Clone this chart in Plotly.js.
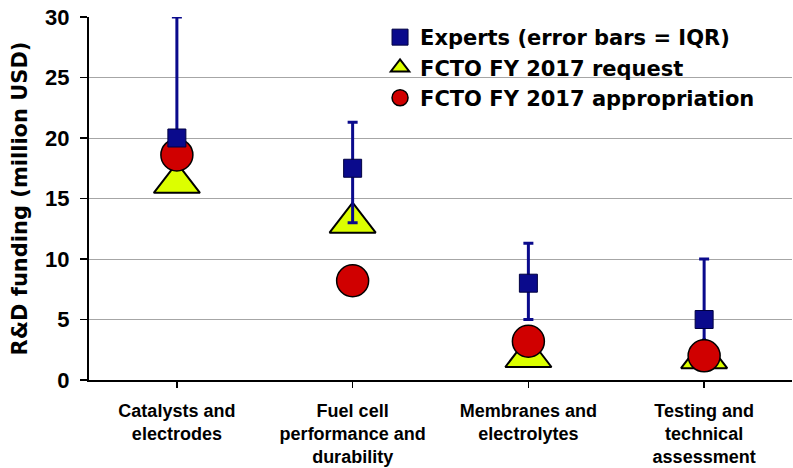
<!DOCTYPE html>
<html>
<head>
<meta charset="utf-8">
<script src="https://cdn.plot.ly/plotly-3.0.1.min.js"></script>
<style>html,body{margin:0;padding:0;background:#fff;}#chart{width:793px;height:468px;}</style>
</head>
<body>
<div id="chart"></div>
<script>
const categories = ['Catalysts and electrodes', 'Fuel cell performance and durability', 'Membranes and electrolytes', 'Testing and technical assessment'];
const tickLabels = ['Catalysts and<br>electrodes', 'Fuel cell<br>performance and<br>durability', 'Membranes and<br>electrolytes', 'Testing and<br>technical<br>assessment'];
const expertsMedian = [20, 17.5, 8, 5];
const expertsQ3 = [30, 21.3, 11.3, 10];
const expertsQ1 = [18, 13, 5, 3];
const fctoRequest = [16.3, 13.0, 1.9, 1.8];
const fctoAppropriation = [18.6, 8.2, 3.2, 2.0];
const yTicks = [0, 5, 10, 15, 20, 25, 30];

const navy = '#0a0a8c';
const errPlus = expertsQ3.map((v, i) => v - expertsMedian[i]);
const errMinus = expertsMedian.map((v, i) => v - expertsQ1[i]);

const traces = [
  {
    x: categories, y: fctoRequest, type: 'scatter', mode: 'markers',
    name: 'FCTO FY 2017 request', legendrank: 2,
    marker: {symbol: 'triangle-up', size: 40, color: '#dcff00', line: {color: '#000', width: 2}}
  },
  {
    x: categories, y: expertsMedian, type: 'scatter', mode: 'markers',
    showlegend: false, hoverinfo: 'skip',
    marker: {size: 1, color: 'rgba(0,0,0,0)'},
    error_y: {type: 'data', symmetric: false, array: errPlus, arrayminus: errMinus,
              color: navy, thickness: 3, width: 5}
  },
  {
    x: categories, y: fctoAppropriation, type: 'scatter', mode: 'markers',
    name: 'FCTO FY 2017 appropriation', legendrank: 3,
    marker: {symbol: 'circle', size: 32, color: '#d00000', line: {color: '#000', width: 1.5}}
  },
  {
    x: categories, y: expertsMedian, type: 'scatter', mode: 'markers',
    name: 'Experts (error bars = IQR)', legendrank: 1,
    marker: {symbol: 'square', size: 18, color: navy, line: {color: '#000040', width: 1}}
  }
];

const layout = {
  width: 793, height: 468,
  margin: {l: 89, r: 1, t: 17, b: 88},
  paper_bgcolor: '#fff', plot_bgcolor: '#fff',
  showlegend: true,
  legend: {
    x: 0.414, y: 1.0, xanchor: 'left', yanchor: 'top',
    bgcolor: 'rgba(0,0,0,0)', borderwidth: 0,
    font: {family: 'DejaVu Sans', size: 21, color: '#000', weight: 'bold'},
    tracegroupgap: 0
  },
  xaxis: {
    type: 'category',
    tickmode: 'array', tickvals: categories, ticktext: tickLabels,
    tickfont: {family: 'Liberation Sans', size: 18, color: '#000', weight: 'bold'},
    showline: true, linecolor: '#000', linewidth: 2,
    ticks: 'outside', ticklen: 6, tickwidth: 1.5, tickcolor: '#000',
    ticklabelstandoff: 7,
    showgrid: false, zeroline: false,
    range: [-0.5, 3.5], fixedrange: true
  },
  yaxis: {
    range: [0, 30], tickmode: 'array', tickvals: yTicks,
    tickfont: {family: 'Liberation Sans', size: 22, color: '#000', weight: 'bold'},
    showline: true, linecolor: '#000', linewidth: 2,
    ticks: 'outside', ticklen: 7, tickwidth: 1.5, tickcolor: '#000',
    ticklabelstandoff: 6,
    showgrid: true, gridcolor: '#a6a6a6', gridwidth: 1,
    zeroline: false,
    title: {text: 'R&D funding (million USD)', standoff: 12,
            font: {family: 'DejaVu Sans', size: 21, color: '#000', weight: 'bold'}},
    fixedrange: true
  }
};

Plotly.newPlot('chart', traces, layout, {staticPlot: true, displayModeBar: false});
</script>
</body>
</html>
